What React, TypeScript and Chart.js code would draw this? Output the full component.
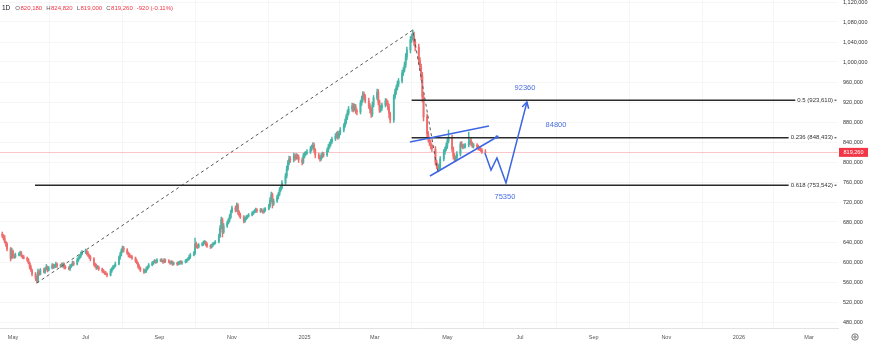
import { useEffect, useRef } from 'react';
import { Chart, registerables } from 'chart.js';

Chart.register(...registerables);

// ---------- data (prices in thousands) ----------
const FIRST_CANDLE_DATE = '2024-04-22'; // Monday, weekday candles
const AXIS_ORIGIN_DATE = '2024-05-01';
const FIRST_OPEN = 656;

const CLOSES = [
  652, 648, 640, 636, 626,
  608, 622, 612, 610, 614,
  616, 618, 612, 610, 608,
  604, 598, 590, 584, 576,
  568, 562, 580, 576, 584,
  580, 586, 590, 584, 588,
  594, 590, 592, 596, 592,
  594, 592, 596, 590, 588,
  586, 592, 594, 598, 596,
  604, 608, 612, 616, 620,
  622, 618, 614, 610, 606,
  596, 592, 588, 590, 586,
  582, 580, 578, 576, 574,
  582, 586, 590, 592, 596,
  608, 614, 622, 628, 624,
  618, 614, 612, 610, 608,
  602, 598, 592, 588, 584,
  580, 582, 586, 590, 594,
  598, 600, 602, 600, 604,
  604, 602, 600, 604, 602,
  600, 598, 600, 596, 598,
  596, 598, 600, 598, 600,
  602, 604, 606, 610, 614,
  618, 636, 632, 630, 634,
  636, 638, 640, 636, 632,
  630, 634, 636, 638, 640,
  652, 668, 684, 660, 672,
  678, 684, 690, 700, 708,
  704, 714, 700, 694, 690,
  682, 686, 690, 692, 694,
  698, 700, 702, 704, 702,
  704, 702, 700, 704, 706,
  712, 724, 734, 716, 722,
  730, 736, 744, 748, 758,
  772, 786, 798, 806, 804,
  812, 808, 812, 810, 804,
  800, 812, 816, 818, 820,
  826, 830, 834, 824, 814,
  810, 806, 812, 816, 814,
  824, 830, 836, 840, 846,
  852, 856, 850, 858, 864,
  872, 880, 890, 898, 906,
  912, 906, 910, 902, 900,
  918, 926, 936, 930, 922,
  912, 904, 896, 914, 928,
  940, 920, 904, 908, 914,
  922, 918, 910, 896, 884,
  930, 940, 948, 956, 962,
  978, 984, 994, 1010, 1024,
  1044, 1050, 1052, 1040, 1030,
  1004, 990, 972, 930, 890,
  856, 846, 838, 832, 826,
  800, 792, 786, 790, 806,
  820, 826, 832, 842, 848,
  826, 812, 806, 808, 816,
  836, 832, 830, 832, 834,
  838, 842, 836, 832, 834,
  830, 828, 826, 824, 820.18,
  819.26,
];

const WICK_UP = [
  4, 3, 5, 2, 3,
  3, 6, 2, 3, 4,
  3, 4, 3, 2, 3,
  2, 3, 2, 4, 2,
  3, 4, 6, 4, 3,
  4, 3, 5, 2, 3,
  3, 2, 3, 4, 2,
  2, 4, 3, 2, 3,
  3, 3, 2, 4, 3,
  4, 3, 3, 4, 3,
  4, 2, 3, 2, 3,
  3, 2, 4, 3, 2,
  2, 3, 2, 3, 2,
  4, 3, 3, 2, 4,
  4, 5, 4, 4, 3,
  3, 2, 3, 2, 3,
  2, 3, 2, 3, 2,
  3, 3, 4, 2, 3,
  3, 2, 3, 2, 3,
  2, 3, 2, 3, 2,
  3, 2, 3, 2, 2,
  2, 3, 2, 3, 2,
  3, 2, 3, 4, 3,
  3, 12, 4, 3, 3,
  3, 4, 3, 2, 3,
  3, 2, 3, 2, 3,
  4, 5, 6, 4, 5,
  4, 3, 5, 4, 4,
  4, 4, 3, 3, 4,
  3, 4, 3, 2, 3,
  3, 2, 3, 4, 3,
  3, 3, 2, 4, 3,
  4, 5, 6, 4, 4,
  4, 3, 5, 4, 5,
  5, 6, 5, 6, 5,
  6, 4, 5, 4, 4,
  4, 5, 4, 3, 5,
  5, 4, 5, 4, 3,
  4, 3, 5, 4, 3,
  4, 5, 4, 5, 4,
  5, 4, 6, 4, 5,
  5, 6, 5, 6, 5,
  6, 5, 6, 5, 4,
  5, 6, 5, 4, 5,
  6, 5, 4, 6, 5,
  6, 5, 4, 5, 4,
  5, 4, 5, 6, 4,
  5, 6, 5, 6, 5,
  6, 5, 6, 7, 6,
  7, 6, 12, 8, 6,
  6, 5, 6, 7, 6,
  6, 5, 4, 5, 4,
  5, 4, 4, 6, 5,
  5, 4, 6, 5, 16,
  6, 4, 5, 4, 5,
  4, 5, 4, 4, 3,
  22, 4, 5, 4, 3,
  3, 4, 3, 3, 3,
  4.64,
];

const WICK_DOWN = [
  3, 4, 2, 5, 4,
  6, 2, 4, 3, 2,
  2, 3, 2, 3, 2,
  3, 2, 4, 3, 4,
  5, 4, 3, 3, 2,
  2, 3, 2, 4, 2,
  2, 3, 2, 3, 3,
  3, 2, 3, 4, 2,
  2, 3, 3, 2, 3,
  2, 3, 2, 3, 2,
  3, 4, 3, 3, 4,
  4, 3, 3, 2, 3,
  3, 2, 3, 2, 4,
  2, 3, 2, 3, 2,
  2, 3, 2, 3, 4,
  3, 4, 3, 2, 3,
  3, 2, 4, 3, 3,
  3, 2, 3, 2, 2,
  2, 3, 2, 3, 2,
  3, 2, 3, 2, 3,
  2, 3, 2, 3, 2,
  3, 2, 3, 2, 3,
  2, 3, 2, 2, 3,
  2, 3, 4, 3, 2,
  2, 3, 2, 4, 3,
  3, 2, 3, 2, 2,
  2, 3, 2, 10, 3,
  3, 2, 4, 3, 2,
  4, 3, 5, 3, 3,
  4, 3, 2, 3, 2,
  2, 3, 2, 3, 3,
  3, 2, 3, 2, 3,
  2, 3, 4, 8, 3,
  3, 4, 3, 3, 2,
  3, 4, 3, 4, 5,
  4, 5, 3, 4, 5,
  6, 3, 4, 3, 3,
  3, 4, 3, 5, 6,
  4, 5, 3, 4, 4,
  3, 4, 3, 4, 3,
  3, 4, 5, 3, 4,
  4, 3, 4, 5, 4,
  5, 6, 4, 5, 6,
  4, 5, 6, 5, 4,
  5, 6, 7, 5, 4,
  4, 6, 5, 4, 5,
  4, 5, 6, 8, 6,
  5, 4, 5, 4, 5,
  4, 5, 4, 5, 6,
  6, 5, 6, 7, 8,
  8, 7, 8, 10, 8,
  7, 6, 5, 6, 5,
  6, 5, 6, 4, 4,
  4, 5, 4, 5, 4,
  5, 6, 5, 4, 4,
  4, 3, 4, 3, 4,
  4, 3, 4, 3, 4,
  3, 4, 3, 3, 3,
  0.26,
];

// time axis ticks
const MONTH_TICK_DATES = [
  '2024-05-01', '2024-07-01', '2024-09-01', '2024-11-01', '2025-01-01', '2025-03-01',
  '2025-05-01', '2025-07-01', '2025-09-01', '2025-11-01', '2026-01-01', '2026-03-01',
];
const MONTH_TICK_LABELS = ['May', 'Jul', 'Sep', 'Nov', '2025', 'Mar', 'May', 'Jul', 'Sep', 'Nov', '2026', 'Mar'];

// price axis ticks
const PRICE_TICKS = [
  480000, 520000, 560000, 600000, 640000, 680000, 720000, 760000, 800000,
  840000, 880000, 920000, 960000, 1000000, 1040000, 1080000, 1120000,
];
const Y_MIN = 468000;
const Y_MAX = 1124000;
const X_MIN_DAY = -10.92;
const X_MAX_DAY = 693.3;

// drawings (day offset from AXIS_ORIGIN_DATE, price)
const DASHED_TREND = [[20, 558000], [336, 1064000], [357, 780000]];
const FIB_RATIOS = ['0.5', '0.236', '0.618'];
const FIB_VALUES = [923610, 848433, 753542];
const FIB_START_DAYS = [335, 335, 18.5];
const WEDGE_UPPER = [[333.6, 840000], [400, 872000]];
const WEDGE_LOWER = [[350.4, 772000], [406.7, 850000]];
const FORECAST_PATH = [[396.6, 818000], [401.7, 784000], [406.7, 808000], [414.3, 758000], [431.9, 920000]];
const TARGET_TEXTS = ['92360', '84800', '75350'];
const TARGET_POINTS = [[430.3, 948000], [456.3, 874000], [413.4, 730000]];

// ---------- helpers ----------
const DAY_MS = 86400000;
const toUTC = (s: string) => {
  const [y, m, d] = s.split('-').map(Number);
  return Date.UTC(y, m - 1, d);
};
const ORIGIN = toUTC(AXIS_ORIGIN_DATE);
const dayOf = (s: string) => Math.round((toUTC(s) - ORIGIN) / DAY_MS);

const CANDLE_DAYS: number[] = (() => {
  const out: number[] = [];
  let t = toUTC(FIRST_CANDLE_DATE);
  while (out.length < CLOSES.length) {
    const wd = new Date(t).getUTCDay();
    if (wd !== 0 && wd !== 6) out.push(Math.round((t - ORIGIN) / DAY_MS));
    t += DAY_MS;
  }
  return out;
})();

const OPENS = CLOSES.map((c, i) => (i === 0 ? FIRST_OPEN : CLOSES[i - 1]));
const HIGHS = CLOSES.map((c, i) => Math.max(c, OPENS[i]) + WICK_UP[i]);
const LOWS = CLOSES.map((c, i) => Math.min(c, OPENS[i]) - WICK_DOWN[i]);

const UP = '#45b5a6';
const DOWN = '#f06d6d';
const FONT = "'Liberation Sans', Arial, sans-serif";
const BLUE = '#3d66e3';

const fmt = (v: number) => Math.round(v).toLocaleString('en-US');

const drawingsPlugin = {
  id: 'tvDrawings',
  beforeDatasetsDraw(chart: any) {
    const { ctx, chartArea, scales } = chart;
    const y = scales.y;
    const last = CLOSES[CLOSES.length - 1] * 1000;
    const py = Math.round(y.getPixelForValue(last)) + 0.5;
    ctx.save();
    ctx.strokeStyle = 'rgba(242,54,69,0.28)';
    ctx.lineWidth = 1;
    ctx.beginPath();
    ctx.moveTo(chartArea.left, py);
    ctx.lineTo(chartArea.right, py);
    ctx.stroke();
    ctx.restore();
  },
  afterDatasetsDraw(chart: any) {
    const { ctx, chartArea, scales } = chart;
    const x = scales.x;
    const y = scales.y;
    const P = (p: number[]) => [x.getPixelForValue(p[0]), y.getPixelForValue(p[1])];
    ctx.save();
    ctx.beginPath();
    ctx.rect(chartArea.left, chartArea.top, chartArea.right - chartArea.left, chartArea.bottom - chartArea.top);
    ctx.clip();

    // dashed trend
    ctx.strokeStyle = '#555';
    ctx.lineWidth = 1;
    ctx.setLineDash([3, 3]);
    ctx.beginPath();
    DASHED_TREND.forEach((p, i) => {
      const [px, py] = P(p);
      if (i === 0) ctx.moveTo(px, py); else ctx.lineTo(px, py);
    });
    ctx.stroke();
    ctx.setLineDash([]);

    // fib levels
    ctx.font = `6px ${FONT}`;
    ctx.textBaseline = 'middle';
    FIB_VALUES.forEach((v, i) => {
      const py = y.getPixelForValue(v);
      const label = `${FIB_RATIOS[i]} (${fmt(v)})`;
      const tw = ctx.measureText(label).width;
      const textRight = chartArea.right - 5;
      const textLeft = textRight - tw;
      const sx = x.getPixelForValue(FIB_START_DAYS[i]);
      ctx.strokeStyle = '#2b2b2b';
      ctx.lineWidth = 1.5;
      ctx.beginPath();
      ctx.moveTo(sx, py);
      ctx.lineTo(textLeft - 2, py);
      ctx.stroke();
      ctx.fillStyle = '#333';
      ctx.textAlign = 'left';
      ctx.fillText(label, textLeft, py);
      ctx.fillRect(textRight + 1.5, py - 0.5, 2, 1);
    });

    // wedge + forecast
    ctx.strokeStyle = BLUE;
    ctx.lineWidth = 1.5;
    [WEDGE_UPPER, WEDGE_LOWER, FORECAST_PATH].forEach((path) => {
      ctx.beginPath();
      path.forEach((p, i) => {
        const [px, py] = P(p);
        if (i === 0) ctx.moveTo(px, py); else ctx.lineTo(px, py);
      });
      ctx.stroke();
    });
    // dot at end of lower wedge line
    const [dx, dy] = P(WEDGE_LOWER[1]);
    ctx.fillStyle = BLUE;
    ctx.beginPath();
    ctx.arc(dx, dy, 1.8, 0, Math.PI * 2);
    ctx.fill();
    // arrow head
    const [tx, ty] = P(FORECAST_PATH[FORECAST_PATH.length - 1]);
    const [qx, qy] = P(FORECAST_PATH[FORECAST_PATH.length - 2]);
    const ang = Math.atan2(ty - qy, tx - qx);
    ctx.beginPath();
    ctx.moveTo(tx - 7 * Math.cos(ang - 0.5), ty - 7 * Math.sin(ang - 0.5));
    ctx.lineTo(tx, ty);
    ctx.lineTo(tx - 7 * Math.cos(ang + 0.5), ty - 7 * Math.sin(ang + 0.5));
    ctx.stroke();

    // target labels
    ctx.font = `7.5px ${FONT}`;
    ctx.fillStyle = '#4a6fe0';
    ctx.textAlign = 'center';
    TARGET_TEXTS.forEach((t, i) => {
      const [px, py] = P(TARGET_POINTS[i]);
      ctx.fillText(t, px, py);
    });
    ctx.restore();
  },
  afterDraw(chart: any) {
    const { ctx, chartArea, scales } = chart;
    const y = scales.y;
    const n = CLOSES.length - 1;
    const o = OPENS[n] * 1000, h = HIGHS[n] * 1000, l = LOWS[n] * 1000, c = CLOSES[n] * 1000;
    ctx.save();
    // header
    ctx.textBaseline = 'middle';
    ctx.textAlign = 'left';
    let cx = 2;
    const cy = 8;
    ctx.font = `6.5px ${FONT}`;
    ctx.fillStyle = '#131722';
    ctx.fillText('1D', cx, cy);
    cx += ctx.measureText('1D').width + 5;
    ctx.font = `6px ${FONT}`;
    const parts: [string, string][] = [['O', fmt(o)], ['H', fmt(h)], ['L', fmt(l)], ['C', fmt(c)]];
    parts.forEach(([k, v]) => {
      ctx.fillStyle = '#555';
      ctx.fillText(k, cx, cy);
      cx += ctx.measureText(k).width + 0.5;
      ctx.fillStyle = '#f23645';
      ctx.fillText(v, cx, cy);
      cx += ctx.measureText(v).width + 4;
    });
    const chg = c - o;
    const pct = (chg / o) * 100;
    ctx.fillStyle = '#f23645';
    ctx.fillText(`${chg < 0 ? '-' : '+'}${fmt(Math.abs(chg))} (${pct < 0 ? '-' : '+'}${Math.abs(pct).toFixed(2)}%)`, cx, cy);

    // last price tag
    const py = y.getPixelForValue(c);
    ctx.fillStyle = '#f23645';
    ctx.fillRect(chartArea.right + 1, py - 4.5, 29, 9);
    ctx.fillStyle = '#fff';
    ctx.font = `5.5px ${FONT}`;
    ctx.textAlign = 'center';
    ctx.fillText(fmt(c), chartArea.right + 15.5, py + 0.3);

    // settings icon
    ctx.strokeStyle = '#555';
    ctx.lineWidth = 0.8;
    ctx.beginPath();
    ctx.arc(855, 337, 3.2, 0, Math.PI * 2);
    ctx.stroke();
    ctx.beginPath();
    ctx.arc(855, 337, 1.2, 0, Math.PI * 2);
    ctx.stroke();
    ctx.restore();
  },
};

export default function App() {
  const ref = useRef<HTMLCanvasElement | null>(null);
  useEffect(() => {
    document.body.style.margin = '0';
    const canvas = ref.current!;
    const wicks = CLOSES.map((c, i) => ({ x: CANDLE_DAYS[i], y: [LOWS[i] * 1000, HIGHS[i] * 1000] }));
    const bodies = CLOSES.map((c, i) => {
      let lo = Math.min(c, OPENS[i]);
      let hi = Math.max(c, OPENS[i]);
      if (hi - lo < 0.6) { lo -= 0.3; hi += 0.3; }
      return { x: CANDLE_DAYS[i], y: [lo * 1000, hi * 1000] };
    });
    const colors = CLOSES.map((c, i) => (c >= OPENS[i] ? UP : DOWN));
    const tickDays = MONTH_TICK_DATES.map(dayOf);

    const chart = new Chart(canvas, {
      type: 'bar',
      data: {
        datasets: [
          { data: wicks as any, backgroundColor: colors, borderWidth: 0, barThickness: 0.8, grouped: false } as any,
          { data: bodies as any, backgroundColor: colors, borderWidth: 0, barThickness: 1.2, grouped: false } as any,
        ],
      },
      options: {
        responsive: false,
        animation: false,
        events: [],
        layout: { padding: 0 },
        plugins: { legend: { display: false }, tooltip: { enabled: false } },
        scales: {
          x: {
            type: 'linear',
            min: X_MIN_DAY,
            max: X_MAX_DAY,
            offset: false,
            afterBuildTicks: (s: any) => { s.ticks = tickDays.map((v) => ({ value: v })); },
            afterFit: (s: any) => { s.height = 23; s.paddingLeft = 0; s.paddingRight = 0; },
            ticks: {
              autoSkip: false,
              maxRotation: 0,
              padding: 6,
              color: '#555',
              font: { size: 5.5, family: FONT },
              callback: (_v: any, i: number) => MONTH_TICK_LABELS[i],
            },
            grid: { color: 'rgba(0,0,0,0.035)', drawTicks: false },
            border: { display: true, color: '#e3e3e3' },
          },
          y: {
            type: 'linear',
            position: 'right',
            min: Y_MIN,
            max: Y_MAX,
            afterBuildTicks: (s: any) => { s.ticks = PRICE_TICKS.map((v) => ({ value: v })); },
            afterFit: (s: any) => { s.width = 32; s.paddingTop = 0; s.paddingBottom = 0; },
            ticks: {
              padding: 5,
              color: '#333',
              font: { size: 5.5, family: FONT },
              callback: (v: any) => fmt(Number(v)),
            },
            grid: { color: 'rgba(0,0,0,0.035)', drawTicks: false },
            border: { display: false },
          },
        },
      } as any,
      plugins: [drawingsPlugin],
    });
    return () => chart.destroy();
  }, []);
  return (
    <div style={{ width: 870, height: 351, background: '#fff' }}>
      <canvas ref={ref} width={870} height={351} style={{ width: 870, height: 351, display: 'block' }} />
    </div>
  );
}
